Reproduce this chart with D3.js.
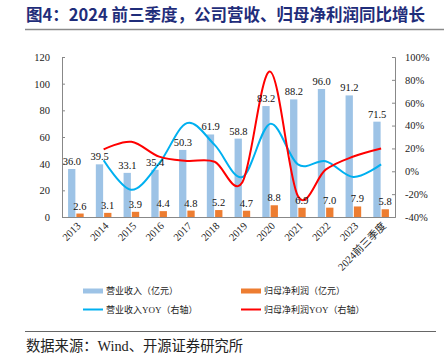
<!DOCTYPE html>
<html><head><meta charset="utf-8">
<script src="https://cdn.jsdelivr.net/npm/d3@7"></script>
<style>
html,body{margin:0;padding:0;background:#fff;}
svg{display:block;}
</style></head>
<body>
<script>
const categories = ['2013','2014','2015','2016','2017','2018','2019','2020','2021','2022','2023','2024前三季度'];
const revenue = [36.0,39.5,33.1,35.4,50.3,61.9,58.8,83.2,88.2,96.0,91.2,71.5];
const profit = [2.6,3.1,3.9,4.4,4.8,5.2,4.7,8.8,6.9,7.0,7.9,5.8];
const revenueYoy = [null,9.7,-16.2,6.9,42.1,23.1,-5.0,41.5,6.0,8.8,-5.0,6.0];
const profitYoy = [null,19.2,25.8,12.8,9.1,8.3,-9.6,87.2,-21.6,1.4,12.9,20.0];
const leftTicks = [0,20,40,60,80,100,120];
const rightTicks = [-40,-20,0,20,40,60,80,100];
const legendLabels = ['营业收入（亿元）','归母净利润（亿元）','营业收入YOY（右轴）','归母净利润YOY（右轴）'];
const titleText = '图4：2024 前三季度，公司营收、归母净利润同比增长';
const sourceText = '数据来源：Wind、开源证券研究所';

(function(){
const W = 444, H = 364;
const pL = 62, pR = 395, pT = 57, pB = 217;
const cBlue = '#9DC3E6', cOrange = '#ED7D31', cLineBlue = '#00B0F0', cLineRed = '#FF0000';
const serif = '"Liberation Serif","Times New Roman","Noto Sans CJK SC",serif';
const cjk = '"Liberation Serif","Noto Sans CJK SC",sans-serif';

const svg = d3.select('body').append('svg').attr('width', W).attr('height', H);

// Title
svg.append('text').attr('x', 26).attr('y', 21)
  .attr('font-family', '"Noto Sans CJK SC",sans-serif').attr('font-weight', 'bold')
  .attr('font-size', 16.5).attr('fill', '#1F2D7A').text(titleText);
svg.append('line').attr('x1', 25).attr('x2', 444).attr('y1', 29.5).attr('y2', 29.5)
  .attr('stroke', '#8a8a8a').attr('stroke-width', 1.5);

const x = d3.scaleBand().domain(categories).range([pL, pR]).padding(0);
const yL = d3.scaleLinear().domain([0, 120]).range([pB, pT]);
const yR = d3.scaleLinear().domain([-40, 100]).range([pB, pT]);
const cx = d => x(d) + x.bandwidth() / 2;

// Bars
svg.append('g').selectAll('rect').data(categories).join('rect')
  .attr('x', d => cx(d) - 7.8).attr('width', 7.3)
  .attr('y', (d, i) => yL(revenue[i])).attr('height', (d, i) => yL(0) - yL(revenue[i]))
  .attr('fill', cBlue);
svg.append('g').selectAll('rect').data(categories).join('rect')
  .attr('x', d => cx(d) + 0.5).attr('width', 7.3)
  .attr('y', (d, i) => yL(profit[i])).attr('height', (d, i) => yL(0) - yL(profit[i]))
  .attr('fill', cOrange);

// Axes
const axL = svg.append('g').attr('transform', `translate(${pL},0)`)
  .call(d3.axisLeft(yL).tickValues(leftTicks).tickSize(-3).tickPadding(12).tickFormat(d3.format('d')));
const axR = svg.append('g').attr('transform', `translate(${pR},0)`)
  .call(d3.axisRight(yR).tickValues(rightTicks).tickSize(-3).tickPadding(10).tickFormat(d => d + '%'));
const axB = svg.append('g').attr('transform', `translate(0,${pB})`)
  .call(d3.axisBottom(x).tickSize(0).tickFormat(''));
[axL, axR, axB].forEach(g => {
  g.select('.domain').attr('stroke', '#888');
  g.selectAll('.tick line').attr('stroke', '#888');
  g.selectAll('.tick text').attr('font-family', serif).attr('font-size', 10.5).attr('fill', '#222');
});

// X labels rotated
svg.append('g').selectAll('text').data(categories).join('text')
  .attr('transform', d => `translate(${cx(d) + 3},${pB + 7}) rotate(-45)`)
  .attr('text-anchor', 'end').attr('dy', '0.35em')
  .attr('font-family', cjk).attr('font-size', 10.5).attr('fill', '#222')
  .text(d => d);

// Lines
const line = (arr, scale) => d3.line()
  .defined((d, i) => arr[i] !== null)
  .x(d => cx(d)).y((d, i) => scale(arr[i]))
  .curve(d3.curveCardinal.tension(0));
svg.append('path').datum(categories).attr('d', line(revenueYoy, yR))
  .attr('fill', 'none').attr('stroke', cLineBlue).attr('stroke-width', 2);
svg.append('path').datum(categories).attr('d', line(profitYoy, yR))
  .attr('fill', 'none').attr('stroke', cLineRed).attr('stroke-width', 2);

// Data labels
svg.append('g').selectAll('text').data(categories).join('text')
  .attr('x', d => cx(d) - 4).attr('y', (d, i) => yL(revenue[i]) - 4)
  .attr('text-anchor', 'middle').attr('font-family', serif).attr('font-size', 10.5).attr('fill', '#111')
  .text((d, i) => revenue[i].toFixed(1));
svg.append('g').selectAll('text').data(categories).join('text')
  .attr('x', d => cx(d) + 4).attr('y', (d, i) => yL(profit[i]) - 4)
  .attr('text-anchor', 'middle').attr('font-family', serif).attr('font-size', 10.5).attr('fill', '#111')
  .text((d, i) => profit[i].toFixed(1));

// Legend
const leg = svg.append('g').attr('font-family', cjk).attr('font-size', 9).attr('fill', '#222');
const legPos = [[83, 291], [241, 291], [83, 309.5], [241, 309.5]];
legendLabels.forEach((t, i) => {
  const [lx, ly] = legPos[i];
  if (i < 2) {
    leg.append('rect').attr('x', lx).attr('y', ly - 2.5).attr('width', 20).attr('height', 5)
      .attr('fill', i === 0 ? cBlue : cOrange);
  } else {
    leg.append('line').attr('x1', lx).attr('x2', lx + 20).attr('y1', ly).attr('y2', ly)
      .attr('stroke', i === 2 ? cLineBlue : cLineRed).attr('stroke-width', 2);
  }
  leg.append('text').attr('x', lx + 23).attr('y', ly).attr('dy', '0.35em').text(t);
});

// Footer
svg.append('line').attr('x1', 25).attr('x2', 436).attr('y1', 331.5).attr('y2', 331.5)
  .attr('stroke', '#666').attr('stroke-width', 1.2);
svg.append('text').attr('x', 26).attr('y', 351).attr('font-family', cjk)
  .attr('font-size', 14.3).attr('fill', '#222').text(sourceText);
})();
</script>
</body></html>
